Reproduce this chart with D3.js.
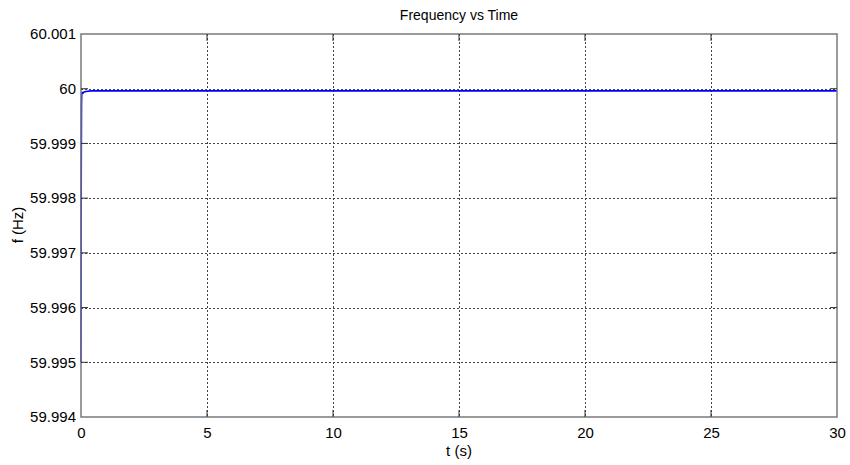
<!DOCTYPE html>
<html><head><meta charset="utf-8">
<script src="https://cdn.jsdelivr.net/npm/d3@7"></script>
<style>body{margin:0;background:#fff}svg{display:block}text{font-family:Arial,"Liberation Sans",sans-serif}</style>
</head><body><svg id="c" width="850" height="465"></svg>
<script>
const timeS = [0, 0.01, 0.02, 0.03, 0.05, 0.08, 0.12, 0.2, 0.4, 1, 5, 10, 15, 20, 25, 30];
const freqHz = [59.995, 59.9985, 59.9997, 59.99992, 59.99993, 59.99992, 59.99994, 59.99995, 59.99996, 59.99996, 59.99996, 59.99996, 59.99996, 59.99996, 59.99996, 59.99996];
const xTicks = [0, 5, 10, 15, 20, 25, 30];
const yTicks = [59.994, 59.995, 59.996, 59.997, 59.998, 59.999, 60, 60.001];
const yTickLabels = ["59.994","59.995","59.996","59.997","59.998","59.999","60","60.001"];

const svg = d3.select("#c");
const L=81, R=837, T=34, B=417;
const x = d3.scaleLinear().domain([0,30]).range([L,R]);
const y = d3.scaleLinear().domain([59.994,60.001]).range([B,T]);

// grid
const g = svg.append("g");
g.selectAll(".vg").data(xTicks.slice(1,-1)).enter().append("line")
 .attr("x1",d=>Math.round(x(d))+0.5).attr("x2",d=>Math.round(x(d))+0.5).attr("y1",T).attr("y2",B)
 .attr("stroke","#444").attr("stroke-width",1).attr("stroke-dasharray","2,2");
g.selectAll(".hg").data(yTicks.slice(1,-1)).enter().append("line")
 .attr("y1",d=>Math.round(y(d))+0.5).attr("y2",d=>Math.round(y(d))+0.5).attr("x1",L).attr("x2",R)
 .attr("stroke","#444").attr("stroke-width",1).attr("stroke-dasharray","2,2");

// line
const line = d3.line().x(d=>x(d[0])).y(d=>y(d[1]));
svg.append("path").datum(timeS.map((t,i)=>[t,freqHz[i]]))
 .attr("d",line).attr("fill","none").attr("stroke","#0000ff").attr("stroke-width",1.6);

// frame
svg.append("rect").attr("x",L).attr("y",T).attr("width",R-L).attr("height",B-T)
 .attr("fill","none").attr("stroke","#7a7a7a").attr("stroke-width",1.5);

// axes
const xa = svg.append("g").attr("transform",`translate(0,${B})`)
 .call(d3.axisBottom(x).tickValues(xTicks).tickSize(0).tickPadding(10).tickFormat(d3.format("d")));
xa.select(".domain").remove();
xa.selectAll("text").attr("font-size",15).attr("fill","#000");
const ya = svg.append("g").attr("transform",`translate(${L},0)`)
 .call(d3.axisLeft(y).tickValues(yTicks).tickSize(0).tickPadding(5).tickFormat((d,i)=>yTickLabels[i]));
ya.select(".domain").remove();
ya.selectAll("text").attr("font-size",15).attr("fill","#000");

// inner tick marks
svg.append("g").selectAll("line").data(xTicks.slice(1,-1)).enter().append("line")
 .attr("x1",d=>x(d)).attr("x2",d=>x(d)).attr("y1",B).attr("y2",B-7).attr("stroke","#333");
svg.append("g").selectAll("line").data(xTicks.slice(1,-1)).enter().append("line")
 .attr("x1",d=>x(d)).attr("x2",d=>x(d)).attr("y1",T).attr("y2",T+7).attr("stroke","#333");
svg.append("g").selectAll("line").data(yTicks.slice(1,-1)).enter().append("line")
 .attr("y1",d=>y(d)).attr("y2",d=>y(d)).attr("x1",L).attr("x2",L+7).attr("stroke","#333");
svg.append("g").selectAll("line").data(yTicks.slice(1,-1)).enter().append("line")
 .attr("y1",d=>y(d)).attr("y2",d=>y(d)).attr("x1",R).attr("x2",R-7).attr("stroke","#333");

// labels
svg.append("text").attr("x",459).attr("y",20).attr("text-anchor","middle").attr("font-size",14).text("Frequency vs Time");
svg.append("text").attr("x",459).attr("y",456).attr("text-anchor","middle").attr("font-size",15).text("t (s)");
svg.append("text").attr("transform","translate(23,225) rotate(-90)").attr("text-anchor","middle").attr("font-size",15).text("f (Hz)");
</script></body></html>
